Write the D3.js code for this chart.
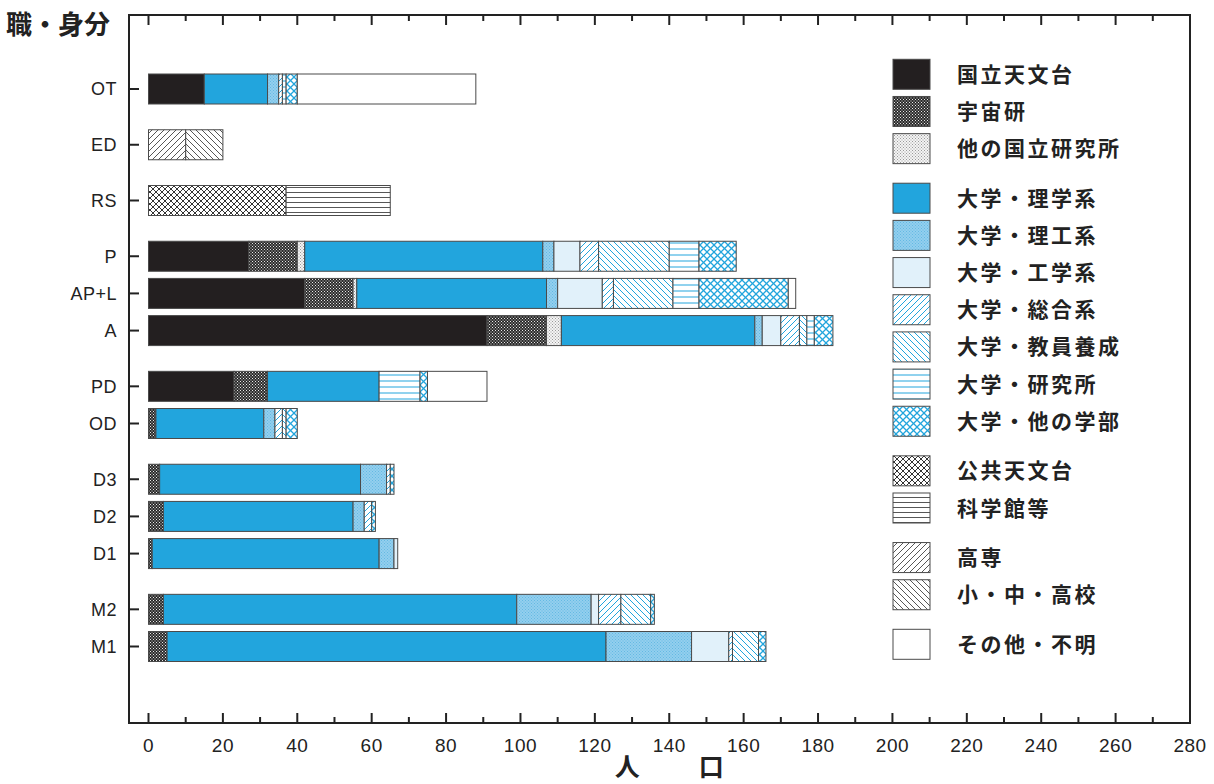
<!DOCTYPE html>
<html><head><meta charset="utf-8">
<script src="https://cdn.jsdelivr.net/npm/d3@7"></script>
<style>
html,body{margin:0;padding:0;background:#fff;}
svg{display:block;}
.jp{font-family:"Noto Sans CJK JP","Noto Sans CJK SC",sans-serif;}
.num{font-family:"Liberation Sans",Arial,sans-serif;}
</style></head>
<body>
<svg id="chart" width="1214" height="784"></svg>
<script>
// ---- data ----
const categories = ["OT","ED","RS","P","AP+L","A","PD","OD","D3","D2","D1","M2","M1"];
const categoryGroups = [1,1,1,3,2,3,2]; // consecutive category counts per visual group
const seriesNames = ["国立天文台","宇宙研","他の国立研究所","大学・理学系","大学・理工系","大学・工学系","大学・総合系","大学・教員養成","大学・研究所","大学・他の学部","公共天文台","科学館等","高専","小・中・高校","その他・不明"];
const legendGroups = [3,7,2,2,1];
// values per series, aligned with categories
const naoj       = [15,0,0,27,42,91,23,0,0,0,0,0,0];
const isas       = [0,0,0,13,13,16,9,2,3,4,1,4,5];
const otherNat   = [0,0,0,2,1,4,0,0,0,0,0,0,0];
const uniSci     = [17,0,0,64,51,52,30,29,54,51,61,95,118];
const uniSciEng  = [3,0,0,3,3,2,0,3,7,3,4,20,23];
const uniEng     = [0,0,0,7,12,5,0,0,0,0,1,2,10];
const uniGeneral = [1,0,0,5,3,5,0,2,1,2,0,6,1];
const uniEdu     = [0,0,0,19,16,2,0,1,0,0,0,8,7];
const uniInst    = [1,0,0,8,7,2,11,0,0,0,0,0,0];
const uniOther   = [3,0,0,10,24,5,2,3,1,1,0,1,2];
const publicObs  = [0,0,37,0,0,0,0,0,0,0,0,0,0];
const museum     = [0,0,28,0,0,0,0,0,0,0,0,0,0];
const techColl   = [0,10,0,0,0,0,0,0,0,0,0,0,0];
const schools    = [0,10,0,0,0,0,0,0,0,0,0,0,0];
const otherUnk   = [48,0,0,0,2,0,16,0,0,0,0,0,0];
const seriesValues = [naoj,isas,otherNat,uniSci,uniSciEng,uniEng,uniGeneral,uniEdu,uniInst,uniOther,publicObs,museum,techColl,schools,otherUnk];
const xTicks = d3.range(0,281,20);
const xMinorTicks = d3.range(0,281,10);
const yTitle = "職・身分";
const xTitle = ["人","口"];

// ---- drawing ----
const svg = d3.select("#chart");
const BLUE = "#22a5dd";
const defs = svg.append("defs");
function linePattern(id, size, color, width, bg, kind){
  const p = defs.append("pattern").attr("id",id).attr("patternUnits","userSpaceOnUse")
    .attr("width",size).attr("height",size);
  p.append("rect").attr("width",size).attr("height",size).attr("fill",bg);
  const s=size;
  const paths = {
    fwd:`M0,${s} L${s},0 M${-s/2},${s/2} L${s/2},${-s/2} M${s/2},${s*1.5} L${s*1.5},${s/2}`,
    back:`M0,0 L${s},${s} M${-s/2},${s/2} L${s/2},${s*1.5} M${s/2},${-s/2} L${s*1.5},${s/2}`,
    horiz:`M0,${s/2} L${s},${s/2}`
  };
  if(kind==="cross"){
    p.append("path").attr("d",paths.fwd).attr("stroke",color).attr("stroke-width",width);
    p.append("path").attr("d",paths.back).attr("stroke",color).attr("stroke-width",width);
  } else {
    p.append("path").attr("d",paths[kind]).attr("stroke",color).attr("stroke-width",width);
  }
}
function dotPattern(id, size, bg, dot, r){
  const p = defs.append("pattern").attr("id",id).attr("patternUnits","userSpaceOnUse")
    .attr("width",size).attr("height",size);
  p.append("rect").attr("width",size).attr("height",size).attr("fill",bg);
  p.append("rect").attr("x",0).attr("y",0).attr("width",r).attr("height",r).attr("fill",dot);
  p.append("rect").attr("x",size/2).attr("y",size/2).attr("width",r).attr("height",r).attr("fill",dot);
}
dotPattern("pIsas",3,"#2b2b2b","#e8e8e8",1);
dotPattern("pOtherNat",3,"#f4f4f4","#9a9a9a",1);
dotPattern("pSciEng",3,"#93cfee","#64b9e3",1);
linePattern("pGeneral",6,BLUE,1,"#fff","fwd");
linePattern("pEdu",6,BLUE,1,"#fff","back");
linePattern("pInst",6,BLUE,1,"#fff","horiz");
linePattern("pUniOther",7,BLUE,1.3,"#fff","cross");
linePattern("pPublic",6,"#333",1,"#fff","cross");
linePattern("pMuseum",5,"#444",0.9,"#fff","horiz");
linePattern("pTech",6,"#444",0.9,"#fff","fwd");
linePattern("pSchool",6,"#444",0.9,"#fff","back");
const fills = ["#231f20","url(#pIsas)","url(#pOtherNat)",BLUE,"url(#pSciEng)","#e1f1fa",
  "url(#pGeneral)","url(#pEdu)","url(#pInst)","url(#pUniOther)","url(#pPublic)","url(#pMuseum)",
  "url(#pTech)","url(#pSchool)","#ffffff"];

const frame = {left:129, top:15, right:1190, bottom:723};
const x = d3.scaleLinear().domain([0,280]).range([148.5,1190]);

// category slot positions: step 2 within group, 3 between groups
const slots = []; let u=0;
categoryGroups.forEach((n,gi)=>{ for(let i=0;i<n;i++){ slots.push(u); if(i<n-1) u+=2; } if(gi<categoryGroups.length-1) u+=3; });
const y = d3.scaleLinear().domain([0,d3.max(slots)]).range([89,646.5]);
const barH = 30;

// stack
const table = categories.map((c,ci)=>{ const o={cat:c}; seriesNames.forEach((s,si)=>o[s]=seriesValues[si][ci]); return o;});
const stacked = d3.stack().keys(seriesNames)(table);
const g = svg.append("g");
stacked.forEach((layer,si)=>{
  g.selectAll(null).data(layer.filter(d=>d[1]-d[0]>0)).enter().append("rect")
    .attr("x",d=>x(d[0])).attr("width",d=>x(d[1])-x(d[0]))
    .attr("y",d=>y(slots[categories.indexOf(d.data.cat)])-barH/2).attr("height",barH)
    .attr("fill",fills[si]).attr("stroke","#4a4a4a").attr("stroke-width",1);
});

// frame
svg.append("rect").attr("x",frame.left).attr("y",frame.top)
  .attr("width",frame.right-frame.left).attr("height",frame.bottom-frame.top)
  .attr("fill","none").attr("stroke","#222").attr("stroke-width",2);

// x ticks (inside, top and bottom)
xMinorTicks.forEach(t=>{
  const major = t%20===0; const len = major?10:6;
  svg.append("line").attr("x1",x(t)).attr("x2",x(t)).attr("y1",frame.bottom).attr("y2",frame.bottom-len).attr("stroke","#222").attr("stroke-width",2);
  svg.append("line").attr("x1",x(t)).attr("x2",x(t)).attr("y1",frame.top).attr("y2",frame.top+len).attr("stroke","#222").attr("stroke-width",2);
});
svg.selectAll(null).data(xTicks).enter().append("text").attr("class","num")
  .attr("x",d=>x(d)).attr("y",frame.bottom+29).attr("text-anchor","middle")
  .attr("font-size",19).attr("letter-spacing",0.5).attr("fill","#222").text(d=>d);

// y ticks and labels
categories.forEach((c,i)=>{
  const yy = y(slots[i]);
  svg.append("line").attr("x1",frame.left).attr("x2",frame.left+10).attr("y1",yy).attr("y2",yy).attr("stroke","#222").attr("stroke-width",2);
  svg.append("text").attr("class","num").attr("x",frame.left-12).attr("y",yy).attr("dy","0.36em")
    .attr("text-anchor","end").attr("font-size",18).attr("letter-spacing",0.5).attr("fill","#222").text(c);
});

// titles
svg.append("text").attr("class","jp").attr("x",6).attr("y",34).attr("font-size",26).attr("font-weight",700)
  .attr("fill","#222").text(yTitle);
const mid = (x(0)+x(280))/2;
xTitle.forEach((t,i)=>{
  svg.append("text").attr("class","jp").attr("x",mid+(i===0?-42:42)).attr("y",776).attr("text-anchor","middle")
    .attr("font-size",25).attr("font-weight",700).attr("fill","#222").text(t);
});

// legend
const legPos=[]; let lu=0;
legendGroups.forEach((n,gi)=>{ for(let i=0;i<n;i++){ legPos.push(lu); if(i<n-1) lu+=3; } if(gi<legendGroups.length-1) lu+=4; });
const ly = d3.scaleLinear().domain([0,d3.max(legPos)]).range([59.3,629.3]);
seriesNames.forEach((s,i)=>{
  const top = ly(legPos[i]);
  svg.append("rect").attr("x",893).attr("y",top).attr("width",37).attr("height",30)
    .attr("fill",fills[i]).attr("stroke","#4a4a4a").attr("stroke-width",1);
  svg.append("text").attr("class","jp").attr("x",957).attr("y",top+15).attr("dy","0.36em")
    .attr("font-size",21).attr("letter-spacing",2.5).attr("font-weight",700).attr("fill","#222").text(s);
});
</script>
</body></html>
